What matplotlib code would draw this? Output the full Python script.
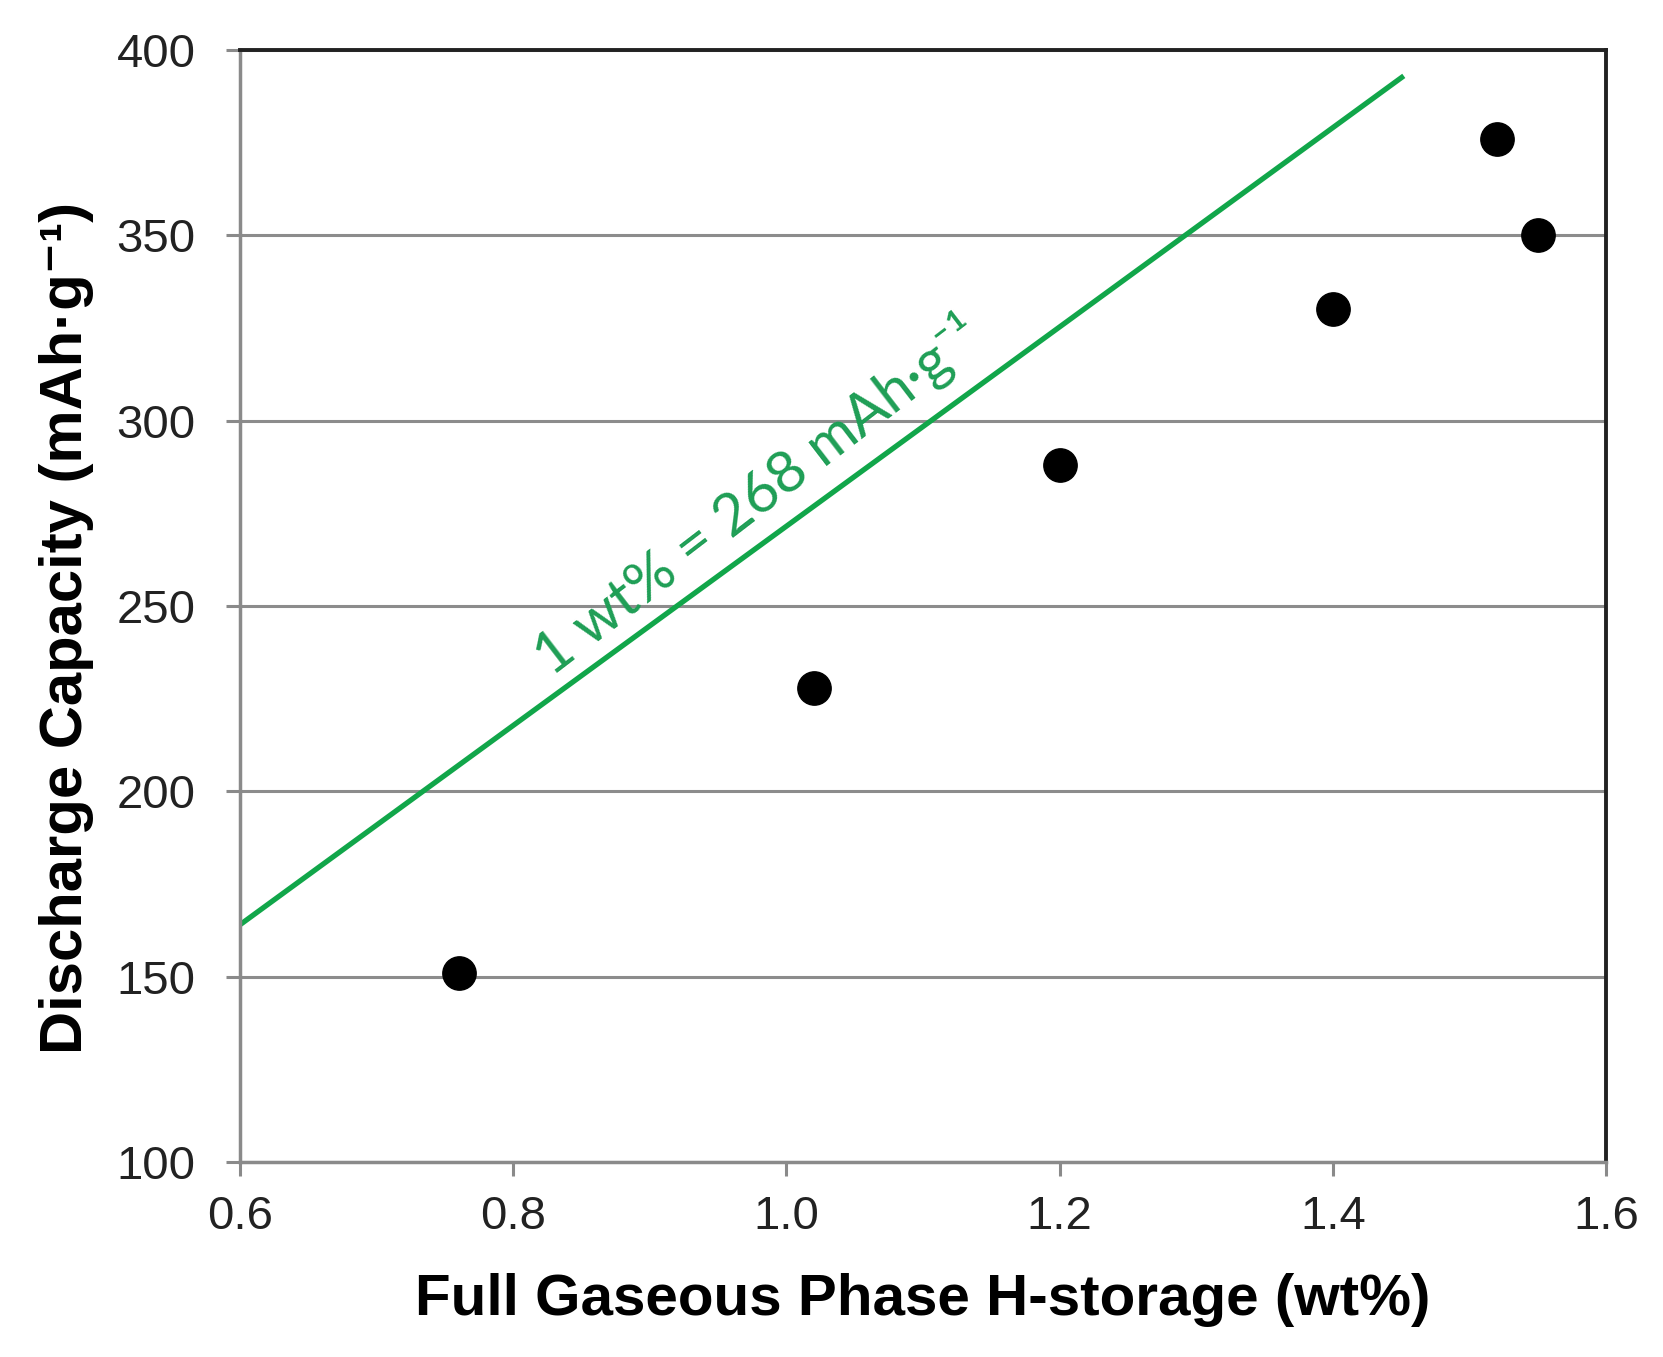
import matplotlib
matplotlib.use("Agg")
import matplotlib.pyplot as plt

# measured points
h_storage = [0.76, 1.02, 1.20, 1.40, 1.52, 1.55]
capacity = [151, 228, 288, 330, 376, 350]

# 1 wt% = 268 mAh/g reference line
fit_x = [0.60, 1.452]
fit_y = [164, 393]

x_ticks = [0.6, 0.8, 1.0, 1.2, 1.4, 1.6]
y_ticks = [100, 150, 200, 250, 300, 350, 400]

fams = ["Liberation Sans", "DejaVu Sans"]
plt.rcParams["font.family"] = fams

fig = plt.figure(figsize=(16.63, 13.57), dpi=100)
ax = fig.add_axes([0.1443, 0.1437, 0.8214, 0.8195])

ax.set_xlim(0.6, 1.6)
ax.set_ylim(100, 400)
ax.set_xticks(x_ticks)
ax.set_xticklabels([f"{v:.1f}" for v in x_ticks])
ax.set_yticks(y_ticks)

ax.grid(axis="y", color="#8c8c8c", linewidth=2.2, zorder=0)
ax.set_axisbelow(True)

ax.plot(fit_x, fit_y, color="#11a64a", linewidth=3.8, solid_capstyle="butt", zorder=2)
ax.plot(h_storage, capacity, "o", color="black", markersize=24, zorder=3)

ax.text(0.828, 231, "1 wt% = 268 mAh·g⁻¹", color="#1e9e55", fontsize=42,
        family=["Lato", "DejaVu Sans"], rotation=37.5, rotation_mode="anchor",
        ha="left", va="baseline")

for side in ["left", "bottom"]:
    ax.spines[side].set_color("#8a8a8a")
    ax.spines[side].set_linewidth(2.5)
for side in ["top", "right"]:
    ax.spines[side].set_color("#222222")
    ax.spines[side].set_linewidth(2.8)

ax.tick_params(axis="both", direction="out", length=10, width=2.2, color="#8a8a8a",
               labelsize=34, labelcolor="#222222")
ax.tick_params(axis="y", pad=22)
ax.tick_params(axis="x", pad=14)

ax.set_xlabel("Full Gaseous Phase H-storage (wt%)", fontsize=42, fontweight="bold",
              labelpad=24)
ax.set_ylabel("Discharge Capacity (mAh·g⁻¹)", fontsize=43, fontweight="bold")
ax.yaxis.set_label_coords(-0.107, 0.48)

fig.savefig("out.png", dpi=100)
